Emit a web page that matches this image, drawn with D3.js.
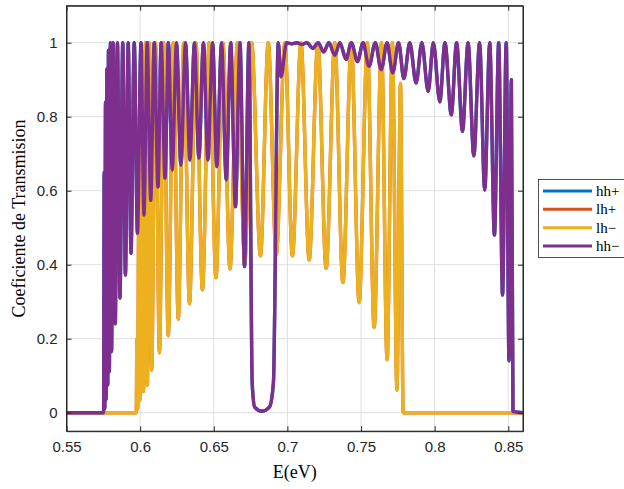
<!DOCTYPE html>
<html><head><meta charset="utf-8">
<script src="https://cdn.jsdelivr.net/npm/d3@7/dist/d3.min.js"></script>
<style>body{margin:0;background:#fff}svg{display:block}</style>
</head><body>
<svg id="chart" width="624" height="489"></svg>
<script>
// ---- data ----
const xTicks = [0.55, 0.6, 0.65, 0.7, 0.75, 0.8, 0.85];
const xTickLabels = ["0.55", "0.6", "0.65", "0.7", "0.75", "0.8", "0.85"];
const yTicks = [0, 0.2, 0.4, 0.6, 0.8, 1];
const yTickLabels = ["0", "0.2", "0.4", "0.6", "0.8", "1"];
const seriesNames = ["hh+", "lh+", "lh\u2212", "hh\u2212"];
const seriesColors = ["#0072BD", "#D95319", "#EDB120", "#7E2F8E"];

// heavy hole (hh-), energies in eV
const hhE = [0.55, 0.5752, 0.5756, 0.5760, 0.5765, 0.5769, 0.5774, 0.5780, 0.5785, 0.5791,
  0.5798, 0.5806, 0.5817, 0.5831, 0.5846, 0.5863, 0.5882, 0.5900, 0.5919, 0.5938,
  0.5960, 0.5982, 0.6006, 0.6026, 0.6048, 0.6072, 0.6096, 0.6121, 0.6143, 0.6169,
  0.6192, 0.6218, 0.6247, 0.6277, 0.6308, 0.6338, 0.6369, 0.6399, 0.6430, 0.6460,
  0.6492, 0.6521, 0.6553, 0.6585, 0.6615, 0.6647, 0.6678, 0.6709, 0.6739, 0.6761,
  0.6778, 0.6827, 0.6878, 0.6905, 0.6938, 0.6956, 0.6995, 0.7030, 0.7064, 0.7098,
  0.7132, 0.7173, 0.7209, 0.7246, 0.7282, 0.7322, 0.7356, 0.7399, 0.7434, 0.7476,
  0.7514, 0.7554, 0.7597, 0.7637, 0.7677, 0.7715, 0.7755, 0.7791, 0.7831, 0.7874,
  0.7913, 0.7956, 0.7991, 0.8035, 0.8070, 0.8113, 0.8149, 0.8189, 0.8227, 0.8266,
  0.8305, 0.8340, 0.8374, 0.8406, 0.8435, 0.8461, 0.8486, 0.8505, 0.8521, 0.8532, 0.86];
const hhMinusT = [0, 0, 0.65, 0.01, 0.84, 0.035, 0.93, 0.075, 0.98, 0.11,
  1.0, 0.165, 1.0, 0.24, 1.0, 0.31, 1.0, 0.372, 1.0, 0.431,
  1.0, 0.485, 1.0, 0.534, 1.0, 0.574, 1.0, 0.61, 1.0, 0.634,
  1.0, 0.656, 1.0, 0.669, 1.0, 0.683, 1.0, 0.688, 1.0, 0.683,
  1.0, 0.665, 1.0, 0.629, 1.0, 0.557, 1.0, 0.395, 1.0, 0.08,
  0.015, 0.004, 0.015, 0.08, 1.0, 0.908, 1.0, 0.997, 1.0, 0.995,
  1.0, 0.985, 1.0, 0.975, 1.0, 0.966, 1.0, 0.955, 1.0, 0.949,
  1.0, 0.936, 1.0, 0.927, 1.0, 0.918, 1.0, 0.903, 1.0, 0.891,
  1.0, 0.868, 1.0, 0.84, 1.0, 0.805, 1.0, 0.76, 1.0, 0.694,
  1.0, 0.602, 1.0, 0.48, 1.0, 0.318, 1.0, 0.14, 0.9, 0.003, 0];
const hhPlusT = hhMinusT.slice();   // hh+ coincides with hh-

// light hole (lh-)
const lhE = [0.55, 0.5974, 0.5978, 0.5983, 0.5991, 0.5999, 0.6010, 0.6023, 0.6036, 0.6049,
  0.6063, 0.6078, 0.6104, 0.6131, 0.6160, 0.6191, 0.6225, 0.6259, 0.6296, 0.6335,
  0.6379, 0.6423, 0.6469, 0.6515, 0.6562, 0.6610, 0.6661, 0.6711, 0.6757, 0.6817,
  0.6870, 0.6924, 0.6983, 0.7034, 0.7092, 0.7148, 0.7207, 0.7263, 0.7322, 0.7377,
  0.7434, 0.7487, 0.7543, 0.7589, 0.7639, 0.7677, 0.7713, 0.7744, 0.7768, 0.7786, 0.86];
const lhMinusT = [0, 0, 0.2, 0.01, 0.55, 0.034, 0.98, 0.057, 1, 0.075,
  1, 0.115, 1, 0.162, 1, 0.208, 1, 0.253, 1, 0.295,
  1, 0.332, 1, 0.365, 1, 0.389, 1, 0.404, 1, 0.424,
  1, 0.426, 1, 0.424, 1, 0.413, 1, 0.39, 1, 0.352,
  1, 0.298, 1, 0.23, 1, 0.143, 1, 0.061, 0.89, 0, 0];
const lhPlusT = lhMinusT.slice();   // lh+ coincides with lh-

const seriesE = [hhE, lhE, lhE, hhE];
const seriesT = [hhPlusT, lhPlusT, lhMinusT, hhMinusT];

// ---- layout ----
const svg = d3.select("#chart");
const L = 66.5, R = 523, T = 5.7, B = 431.2;
const x = d3.scaleLinear().domain([0.55, 0.86]).range([L, R]);
const y = d3.scaleLinear().domain([-0.05, 1.1]).range([B, T]);
const axisColor = "#262626";
const tickFont = "'Liberation Sans', Arial, Helvetica, sans-serif";
const serif = "'Liberation Serif', 'Times New Roman', serif";

svg.append("rect").attr("width", 624).attr("height", 489).attr("fill", "#fff");

// grid
const grid = svg.append("g");
grid.selectAll("line.gx").data(xTicks).join("line")
  .attr("x1", d => x(d)).attr("x2", d => x(d)).attr("y1", T).attr("y2", B)
  .attr("stroke", "#dfdfdf").attr("stroke-width", 1);
grid.selectAll("line.gy").data(yTicks).join("line")
  .attr("class", "gy")
  .attr("x1", L).attr("x2", R).attr("y1", d => y(d)).attr("y2", d => y(d))
  .attr("stroke", "#dfdfdf").attr("stroke-width", 1);

// lines
svg.append("clipPath").attr("id", "clip").append("rect")
  .attr("x", L).attr("y", T).attr("width", R - L).attr("height", B - T);
const line = d3.line().x(d => x(d[0])).y(d => y(d[1])).curve(d3.curveMonotoneX);
const plot = svg.append("g").attr("clip-path", "url(#clip)");
seriesNames.forEach((name, i) => {
  const pts = seriesE[i].map((e, k) => [e, seriesT[i][k]]);
  plot.append("path").datum(pts)
    .attr("d", line)
    .attr("fill", "none")
    .attr("stroke", seriesColors[i])
    .attr("stroke-width", 3.4)
    .attr("stroke-linejoin", "round")
    .attr("stroke-linecap", "round");
});

// axes (box with inward ticks)
const ax = svg.append("g");
const xb = d3.axisBottom(x).tickValues(xTicks).tickFormat((d, i) => xTickLabels[i]).tickSizeInner(-5).tickSizeOuter(0).tickPadding(10);
const xt = d3.axisTop(x).tickValues(xTicks).tickFormat("").tickSizeInner(-5).tickSizeOuter(0);
const yl = d3.axisLeft(y).tickValues(yTicks).tickFormat((d, i) => yTickLabels[i]).tickSizeInner(-5).tickSizeOuter(0).tickPadding(9);
const yr = d3.axisRight(y).tickValues(yTicks).tickFormat("").tickSizeInner(-5).tickSizeOuter(0);
ax.append("g").attr("transform", `translate(0,${B})`).call(xb);
ax.append("g").attr("transform", `translate(0,${T})`).call(xt);
ax.append("g").attr("transform", `translate(${L},0)`).call(yl);
ax.append("g").attr("transform", `translate(${R},0)`).call(yr);
ax.selectAll(".domain").attr("stroke", axisColor).attr("stroke-width", 1);
ax.selectAll(".tick line").attr("stroke", axisColor).attr("stroke-width", 1);
ax.selectAll(".tick text").attr("fill", axisColor).style("font-family", tickFont).style("font-size", "15px");
svg.append("rect").attr("x", L).attr("y", T).attr("width", R - L).attr("height", B - T)
  .attr("fill", "none").attr("stroke", axisColor).attr("stroke-width", 1);

// titles
svg.append("text").attr("x", (L + R) / 2).attr("y", 478)
  .attr("text-anchor", "middle").style("font-family", serif).style("font-size", "18px")
  .attr("fill", "#000").text("E(eV)");
svg.append("text").attr("transform", `translate(25,${(T + B) / 2}) rotate(-90)`)
  .attr("text-anchor", "middle").style("font-family", serif).style("font-size", "18px")
  .attr("fill", "#000").text("Coeficiente de Transmision");

// legend
const lg = svg.append("g");
lg.append("rect").attr("x", 538.5).attr("y", 179.5).attr("width", 100).attr("height", 78)
  .attr("fill", "#fff").attr("stroke", axisColor).attr("stroke-width", 0.8);
const rowY = d3.scalePoint().domain(seriesNames).range([191, 246]);
seriesNames.forEach((name, i) => {
  lg.append("line").attr("x1", 543).attr("x2", 592).attr("y1", rowY(name)).attr("y2", rowY(name))
    .attr("stroke", seriesColors[i]).attr("stroke-width", 3);
  lg.append("text").attr("x", 596).attr("y", rowY(name) + 5)
    .style("font-family", serif).style("font-size", "15px").attr("fill", "#000").text(name);
});
</script>
</body></html>
